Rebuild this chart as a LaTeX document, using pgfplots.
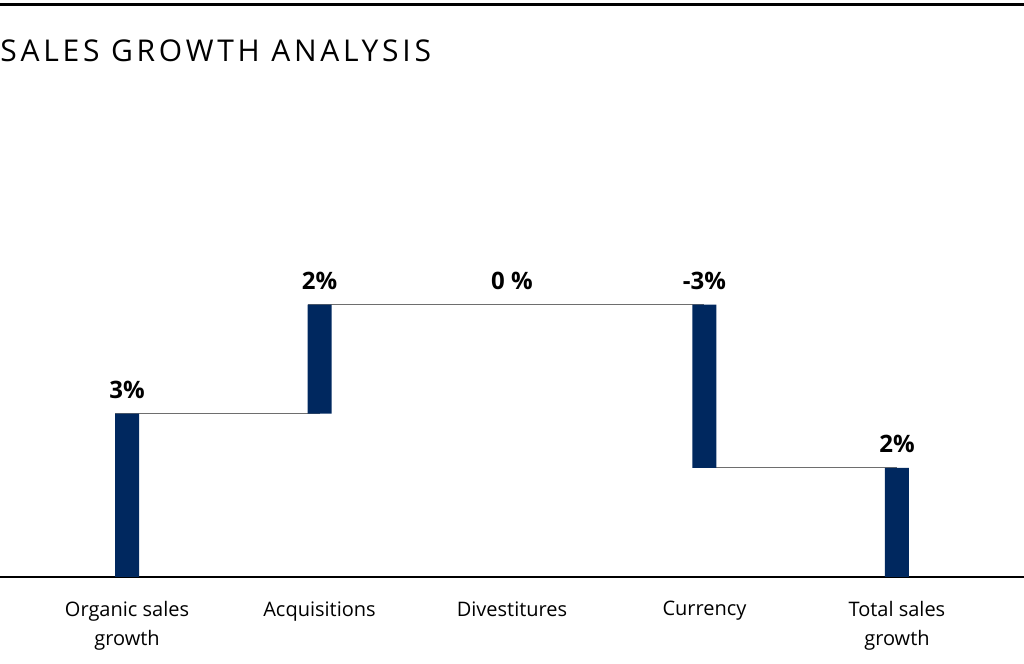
\documentclass[border=0pt]{standalone}
\usepackage{pgfplots}
\pgfplotsset{compat=1.18}
\usepackage{fontspec}
\setmainfont{Open Sans}
\newfontfamily\titlefont[LetterSpace=12.5]{Open Sans}
\definecolor{navy}{HTML}{00285F}
\definecolor{conn}{HTML}{6E6E6E}
\pgfplotsset{
  common/.style={
    at={(0,43.5pt)}, anchor=south west, scale only axis,
    width=512pt, height=218pt,
    xmin=-0.66, xmax=4.66, ymin=0, ymax=8, clip=false,
  }
}
\begin{document}
\begin{tikzpicture}
\useasboundingbox (0,0) rectangle (512pt,332pt);
\draw[line width=1.5pt] (0,329.6pt) -- (512pt,329.6pt);
\node[anchor=base west, inner sep=0pt] at (0,301pt) {\titlefont\fontsize{15}{17}\selectfont SALES GROWTH ANALYSIS};
\begin{axis}[common,
  axis x line*=bottom, axis y line=none,
  x axis line style={-, black, line width=0.75pt},
  ytick=\empty, xtick={0,1,2,3,4},
  xticklabels={{Organic sales\\growth},{Acquisitions},{Divestitures},{Currency},{Total sales\\growth}},
  major tick length=0pt,
  xticklabel style={anchor=north, inner sep=0pt, yshift=-12pt, align=center, font=\fontsize{10}{14.5}\selectfont},
]
\addplot[conn, line width=0.5pt, mark=none] coordinates {(-0.062,3) (1,3)};
\addplot[conn, line width=0.5pt, mark=none] coordinates {(0.94,5) (3,5)};
\addplot[conn, line width=0.5pt, mark=none] coordinates {(2.94,2) (4,2)};
\addplot[draw=none, mark=none, nodes near coords, point meta=explicit symbolic,
  nodes near coords style={anchor=base, yshift=7.5pt, inner sep=0pt, font=\bfseries\fontsize{12}{14}\selectfont}]
  coordinates {(0,3) [3\%] (1,5) [2\%] (2,5) [0 \%] (3,5) [-3\%] (4,2) [2\%]};
\end{axis}
\begin{axis}[common, hide axis, ybar stacked, bar width=12pt]
\addplot[draw=none, fill=none] coordinates {(0,0) (1,3) (2,5) (3,2) (4,0)};
\addplot[draw=none, fill=navy] coordinates {(0,3) (1,2) (2,0) (3,3) (4,2)};
\end{axis}
\end{tikzpicture}
\end{document}
